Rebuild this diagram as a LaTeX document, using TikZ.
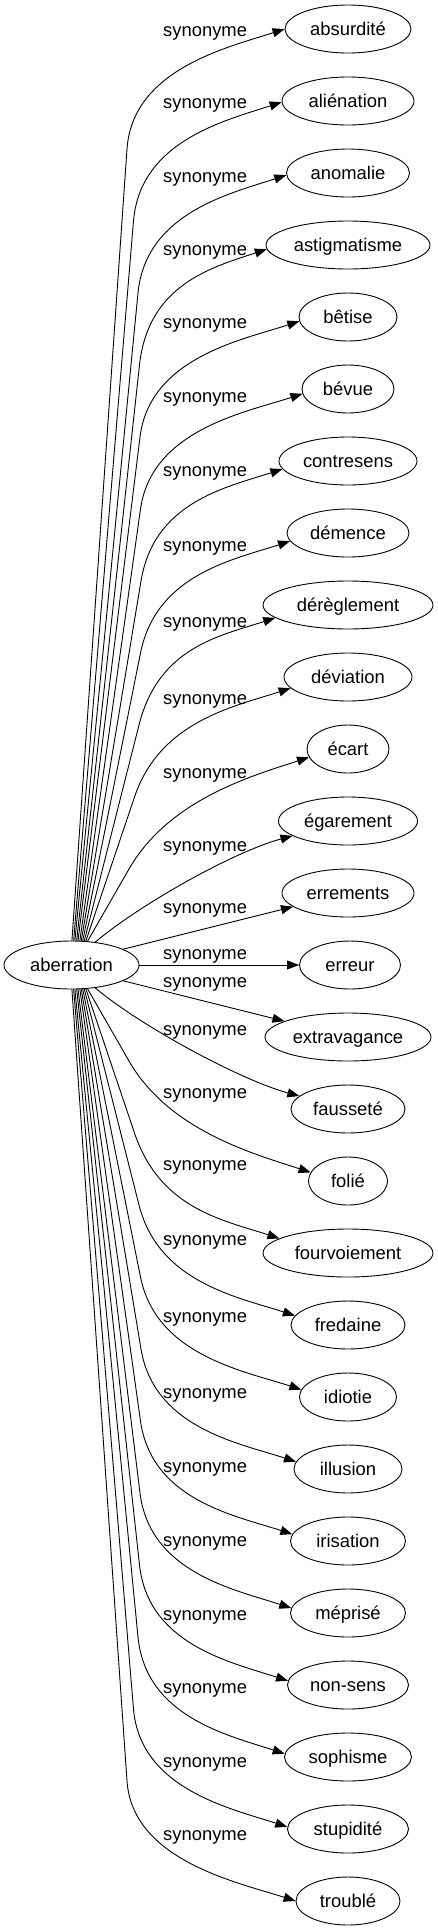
\documentclass[tikz,border=0pt]{standalone}
\usepackage{fontspec}
\setmainfont{Liberation Sans}
\usetikzlibrary{arrows.meta,calc,shapes.geometric}
\newcommand{\upedge}[5]{\draw[edgeline] (root.#2) -- (#3) .. controls ($(#3)!-80pt!(root.#2)$) and ($(#1.#4)+(180+#5:60pt)$) .. (#1.#4);}
\newcommand{\dnedge}[5]{\draw[edgeline] (root.#2) -- (#3) .. controls ($(#3)!-80pt!(root.#2)$) and ($(#1.#4)+(180-#5:60pt)$) .. (#1.#4);}
\begin{document}
\begin{tikzpicture}[x=1pt,y=-1pt,
  every node/.style={font=\fontsize{18.4}{22}\selectfont},
  word/.style={draw, ellipse, line width=0.9pt, minimum height=48pt, inner sep=0pt, text height=14pt, text depth=2pt},
  lbl/.style={anchor=base west, inner sep=0pt},
  edgeline/.style={line width=0.9pt, -{Triangle[length=12pt,width=9pt]}}]
\useasboundingbox (0,0) rectangle (438,1931);
\node[word, minimum width=135pt] (root) at (71.5,965) {aberration};
\node[word, minimum width=126pt] (t0) at (348,29) {absurdité};
\node[word, minimum width=132pt] (t1) at (348,101) {aliénation};
\node[word, minimum width=123pt] (t2) at (348,173) {anomalie};
\node[word, minimum width=164pt] (t3) at (348,245) {astigmatisme};
\node[word, minimum width=98pt] (t4) at (348,317) {bêtise};
\node[word, minimum width=92pt] (t5) at (348,389) {bévue};
\node[word, minimum width=138pt] (t6) at (348,461) {contresens};
\node[word, minimum width=122pt] (t7) at (348,533) {démence};
\node[word, minimum width=170pt] (t8) at (348,605) {dérèglement};
\node[word, minimum width=128pt] (t9) at (348,677) {déviation};
\node[word, minimum width=82pt] (t10) at (348,749) {écart};
\node[word, minimum width=139pt] (t11) at (348,821) {égarement};
\node[word, minimum width=132pt] (t12) at (348,893) {errements};
\node[word, minimum width=101pt] (t13) at (350,965) {erreur};
\node[word, minimum width=166pt] (t14) at (348,1037) {extravagance};
\node[word, minimum width=114pt] (t15) at (348,1109) {fausseté};
\node[word, minimum width=79pt] (t16) at (348,1181) {folié};
\node[word, minimum width=170pt] (t17) at (348,1253) {fourvoiement};
\node[word, minimum width=114pt] (t18) at (348,1325) {fredaine};
\node[word, minimum width=97pt] (t19) at (348,1397) {idiotie};
\node[word, minimum width=108pt] (t20) at (348,1469) {illusion};
\node[word, minimum width=115pt] (t21) at (348,1541) {irisation};
\node[word, minimum width=115pt] (t22) at (348,1613) {méprisé};
\node[word, minimum width=121pt] (t23) at (348,1685) {non-sens};
\node[word, minimum width=127pt] (t24) at (348,1757) {sophisme};
\node[word, minimum width=121pt] (t25) at (348,1829) {stupidité};
\node[word, minimum width=104pt] (t26) at (348,1901) {troublé};
% labels
\node[lbl] (l0) at (163,36) {synonyme};
\node[lbl] (l1) at (163,108) {synonyme};
\node[lbl] (l2) at (163,182) {synonyme};
\node[lbl] (l3) at (163,255) {synonyme};
\node[lbl] (l4) at (163,328) {synonyme};
\node[lbl] (l5) at (163,402) {synonyme};
\node[lbl] (l6) at (163,476) {synonyme};
\node[lbl] (l7) at (163,551) {synonyme};
\node[lbl] (l8) at (163,627) {synonyme};
\node[lbl] (l9) at (163,704) {synonyme};
\node[lbl] (l10) at (163,778) {synonyme};
\node[lbl] (l11) at (163,851) {synonyme};
\node[lbl] (l12) at (163,913) {synonyme};
\node[lbl] (l13) at (163,959) {synonyme};
\node[lbl] (l14) at (163,987) {synonyme};
\node[lbl] (l15) at (163,1035) {synonyme};
\node[lbl] (l16) at (163,1098) {synonyme};
\node[lbl] (l17) at (163,1170) {synonyme};
\node[lbl] (l18) at (163,1245) {synonyme};
\node[lbl] (l19) at (163,1322) {synonyme};
\node[lbl] (l20) at (163,1398) {synonyme};
\node[lbl] (l21) at (163,1472) {synonyme};
\node[lbl] (l22) at (163,1546) {synonyme};
\node[lbl] (l23) at (163,1620) {synonyme};
\node[lbl] (l24) at (163,1693) {synonyme};
\node[lbl] (l25) at (163,1767) {synonyme};
\node[lbl] (l26) at (163,1840) {synonyme};
% edges, upper
\upedge{t0}{89}{127,149}{180}{18}
\upedge{t1}{85}{133.5,221}{181.25}{18}
\upedge{t2}{82}{138,293}{182.5}{18}
\upedge{t3}{78}{139.5,365}{183.75}{18}
\upedge{t4}{75}{140,437}{185}{18}
\upedge{t5}{71}{140.5,509}{186.25}{18}
\upedge{t6}{68}{141,581}{187.5}{18}
\upedge{t7}{65}{140.5,653}{188.75}{18}
\upedge{t8}{62}{139,725}{190}{18}
\upedge{t9}{59.5}{134.5,797}{191.25}{18}
\upedge{t10}{56.5}{129,869}{192.5}{18}
\draw[edgeline] (root.44) .. controls +(40:60pt) and +(195:60pt) .. (t11.195);
\draw[edgeline] (root.17) -- (t12.194);
\draw[edgeline] (root.east) -- (t13.west);
\draw[edgeline] (root.-17) -- (t14.166);
\draw[edgeline] (root.-44) .. controls +(-40:60pt) and +(165:60pt) .. (t15.165);
% edges, lower
\dnedge{t16}{-56.5}{129,1061}{167.5}{18}
\dnedge{t17}{-59.5}{134.5,1133}{168.75}{18}
\dnedge{t18}{-62}{139,1205}{170}{18}
\dnedge{t19}{-65}{140.5,1277}{171.25}{18}
\dnedge{t20}{-68}{141,1349}{172.5}{18}
\dnedge{t21}{-71}{140.5,1421}{173.75}{18}
\dnedge{t22}{-75}{140,1493}{175}{18}
\dnedge{t23}{-78}{139.5,1565}{176.25}{18}
\dnedge{t24}{-82}{138,1637}{177.5}{18}
\dnedge{t25}{-85}{133.5,1709}{178.75}{18}
\dnedge{t26}{-89}{127,1781}{180}{18}
\end{tikzpicture}
\end{document}
